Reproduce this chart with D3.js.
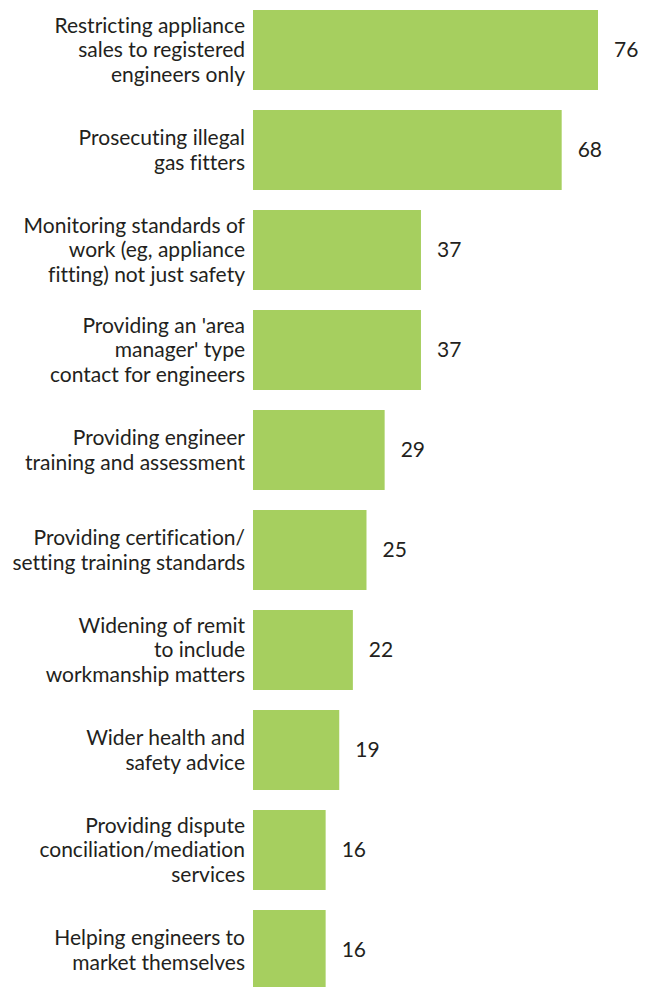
<!DOCTYPE html>
<html>
<head>
<meta charset="utf-8">
<script src="https://cdn.jsdelivr.net/npm/d3@7"></script>
<style>
  html, body { margin: 0; padding: 0; background: #fff; }
  svg { display: block; }
  text { font-family: Lato, "Open Sans", sans-serif; fill: #231f20; font-variant-ligatures: none; }
</style>
</head>
<body>
<svg id="chart" width="654" height="987"></svg>
<script>
// Survey responses: share (%) supporting each proposed role
const categories = [
  ["Restricting appliance", "sales to registered", "engineers only"],
  ["Prosecuting illegal", "gas fitters"],
  ["Monitoring standards of", "work (eg, appliance", "fitting) not just safety"],
  ["Providing an 'area", "manager' type", "contact for engineers"],
  ["Providing engineer", "training and assessment"],
  ["Providing certification/", "setting training standards"],
  ["Widening of remit", "to include", "workmanship matters"],
  ["Wider health and", "safety advice"],
  ["Providing dispute", "conciliation/mediation", "services"],
  ["Helping engineers to", "market themselves"]
];
const values = [76, 68, 37, 37, 29, 25, 22, 19, 16, 16];

const svg = d3.select("#chart");
const plotLeft = 253, plotTop = 10;
const ids = d3.range(values.length);

const x = d3.scaleLinear().domain([0, 76]).range([plotLeft, 598]);
const y = d3.scaleBand().domain(ids).range([plotTop, 990]).paddingInner(0.2).paddingOuter(0);

// bars
svg.selectAll("rect.bar").data(ids).join("rect")
  .attr("class", "bar")
  .attr("x", x(0))
  .attr("y", i => y(i))
  .attr("width", i => x(values[i]) - x(0))
  .attr("height", y.bandwidth())
  .attr("fill", "#a6cf5f");

// value labels
svg.selectAll("text.val").data(ids).join("text")
  .attr("class", "val")
  .attr("x", i => x(values[i]) + 16)
  .attr("y", i => y(i) + y.bandwidth() / 2)
  .attr("dy", "0.35em")
  .attr("font-size", 21)
  .text(i => values[i]);

// category labels, right-aligned against the bars
const lineH = 24.5;
const cat = svg.selectAll("text.cat").data(ids).join("text")
  .attr("class", "cat")
  .attr("text-anchor", "end")
  .attr("font-size", 21)
  .attr("y", i => y(i) + y.bandwidth() / 2);
cat.selectAll("tspan").data(i => categories[i].map((t, k, arr) => ({t, k, n: arr.length}))).join("tspan")
  .attr("x", 245)
  .attr("dy", d => d.k === 0 ? (0.35 * 21 - (d.n - 1) * lineH / 2) : lineH)
  .text(d => d.t);
</script>
</body>
</html>
